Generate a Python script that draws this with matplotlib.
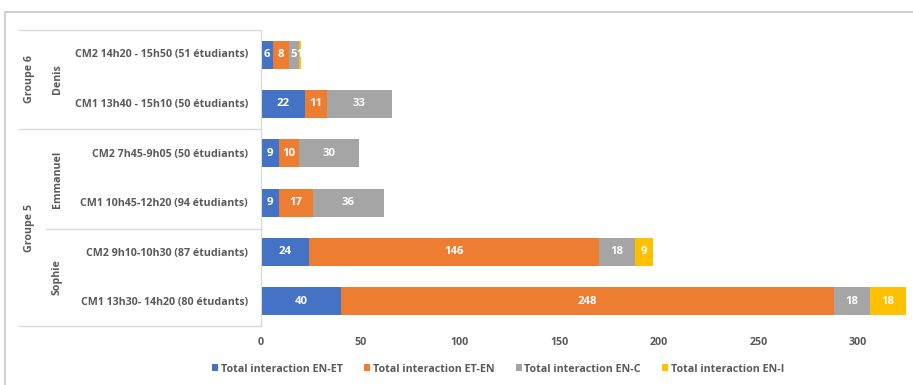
import numpy as np
import matplotlib.pyplot as plt
from matplotlib.lines import Line2D
from matplotlib.patches import Rectangle

plt.rcParams['font.family'] = ['Open Sans', 'DejaVu Sans']

W, H = 913, 385

# bottom row first (matplotlib draws y=0 at the bottom)
sessions = ['CM1 13h30- 14h20 (80 étudants)',
            'CM2 9h10-10h30 (87 étudiants)',
            'CM1 10h45-12h20 (94 étudiants)',
            'CM2 7h45-9h05 (50 étudiants)',
            'CM1 13h40 - 15h10 (50 étudiants)',
            'CM2 14h20 - 15h50 (51 étudiants)']
teachers = ['Sophie', 'Emmanuel', 'Denis']
groups = ['Groupe 5', 'Groupe 6']

en_et = [40, 24, 9, 9, 22, 6]
et_en = [248, 146, 17, 10, 11, 8]
en_c = [18, 18, 36, 30, 33, 5]
en_i = [18, 9, 0, 0, 0, 1]

series = [en_et, et_en, en_c, en_i]
names = ['Total interaction EN-ET', 'Total interaction ET-EN',
         'Total interaction EN-C', 'Total interaction EN-I']
colors = ['#4472C4', '#ED7D31', '#A5A5A5', '#FFC000']
txt = '#595959'
grid = '#D9D9D9'
fs = 7.7


def fx(px):  ## pixel -> figure fraction
    return px / W


def fy(py):
    return 1 - py / H


fig = plt.figure(figsize=(W / 100, H / 100), dpi=100)
ax = fig.add_axes([fx(261), fy(326), fx(913 - 261), (326 - 30) / H])

y = np.arange(len(sessions))
left = np.zeros(len(sessions))
for vals, name, c in zip(series, names, colors):
    vals = np.array(vals)
    bars = ax.barh(y, vals, left=left, height=0.57, color=c, label=name)
    for b, v in zip(bars, vals):
        if v > 0:
            ax.text(b.get_x() + b.get_width() / 2, b.get_y() + b.get_height() / 2,
                    str(v), ha='center', va='center', color='white',
                    fontsize=8.2, fontweight='bold')
    left += vals

ax.set_xlim(0, (913 - 261) / 1.99)
ax.set_ylim(-0.5, len(sessions) - 0.5)
ax.set_xticks(np.arange(0, 301, 50))
ax.tick_params(axis='x', length=0, pad=8, labelsize=fs, labelcolor=txt)
for lab in ax.get_xticklabels():
    lab.set_fontweight('bold')
ax.set_yticks([])
for s in ['top', 'right', 'bottom']:
    ax.spines[s].set_visible(False)
ax.spines['left'].set_color(grid)

# category table on the left
for i, s in enumerate(sessions):
    fig.text(fx(248), fy(303 - i * 49.6), s, ha='right', va='center',
             fontsize=fs, fontweight='bold', color=txt)

t_pos = [277, 179, 79]
for t, p in zip(teachers, t_pos):
    fig.text(fx(57), fy(p), t, ha='center', va='center', rotation=90,
             fontsize=fs, fontweight='bold', color=txt)
g_pos = [228, 79]
for g, p in zip(groups, g_pos):
    fig.text(fx(29), fy(p), g, ha='center', va='center', rotation=90,
             fontsize=fs, fontweight='bold', color=txt)

for x0, yy in [(19, 30), (19, 129), (46, 229), (19, 326)]:
    fig.add_artist(Line2D([fx(x0), fx(261)], [fy(yy), fy(yy)], color=grid, lw=1))

# outer chart frame
fig.add_artist(Rectangle((fx(5), fy(H + 5)), fx(W + 5), (H - 7) / H,
                         fill=False, edgecolor='#D0D0D0', lw=1.5))

leg = fig.legend(loc='center', bbox_to_anchor=(fx(498), fy(369)), ncol=4,
                 frameon=False, handlelength=0.6, handleheight=0.6,
                 handletextpad=0.2, columnspacing=2.0, fontsize=fs)
for t in leg.get_texts():
    t.set_color(txt)
    t.set_fontweight('bold')

fig.savefig('out.png', dpi=100)
